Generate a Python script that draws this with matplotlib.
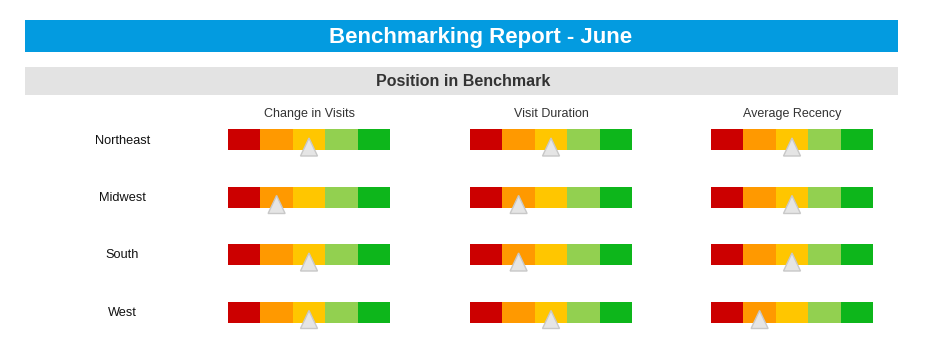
import matplotlib.pyplot as plt
from matplotlib.patches import Polygon, Rectangle

plt.rcParams['font.family'] = ['Liberation Sans', 'DejaVu Sans']

regions = ['Northeast', 'Midwest', 'South', 'West']
metrics = ['Change in Visits', 'Visit Duration', 'Average Recency']
# benchmark band (1 = worst, 5 = best) for each metric, per region
change_in_visits = [3, 2, 3, 3]
visit_duration = [3, 2, 2, 3]
average_recency = [3, 3, 3, 2]
band_colors = ['#CC0000', '#FF9900', '#FFC600', '#92D050', '#0DB61B']

W, H = 931, 350
fig = plt.figure(figsize=(W / 100, H / 100), dpi=100)


def px_axes(x0, y0, w, h):
    # axes placed in pixel units from top-left
    return fig.add_axes([x0 / W, 1 - (y0 + h) / H, w / W, h / H])


# header bands
bg = px_axes(0, 0, W, H)
bg.set_xlim(0, W)
bg.set_ylim(H, 0)
bg.axis('off')
bg.add_patch(Rectangle((25, 20), 873, 32, color='#039BE0', lw=0))
bg.add_patch(Rectangle((25, 67), 873, 28, color='#E3E3E3', lw=0))
bg.text(481, 37, 'Benchmarking Report - June', color='white', fontsize=16,
        fontweight='bold', ha='center', va='center')
bg.text(463, 81.5, 'Position in Benchmark', color='#333333', fontsize=11.5,
        fontweight='bold', ha='center', va='center')

col_x = [228, 470, 711]
row_y = [139.5, 197, 254.5, 312]
gauge_w = 162

for x0, name in zip(col_x, metrics):
    bg.text(x0 + gauge_w / 2, 114, name, color='#333333', fontsize=9,
            ha='center', va='center')
for y, name in zip(row_y, regions):
    bg.text(122.5, y + 1, name, color='#111111', fontsize=9.2,
            ha='center', va='center')

scores = [change_in_visits, visit_duration, average_recency]
seg_px = gauge_w / 5
for x0, col in zip(col_x, scores):
    for y, v in zip(row_y, col):
        ax = px_axes(x0, y - 20, gauge_w, 40)
        ax.set_xlim(0, 5)
        ax.set_ylim(20, -20)
        ax.axis('off')
        ax.barh(0, [1] * 5, left=range(5), height=21, color=band_colors,
                linewidth=0)
        c = v - 0.5
        hw = 8.5 / seg_px
        ax.add_patch(Polygon([(c, -1.5), (c - hw, 16.5), (c + hw, 16.5)],
                             closed=True, facecolor='#E5E5E5',
                             edgecolor='#C8C8C8', lw=1, clip_on=False))

fig.savefig('out.png', dpi=100)
